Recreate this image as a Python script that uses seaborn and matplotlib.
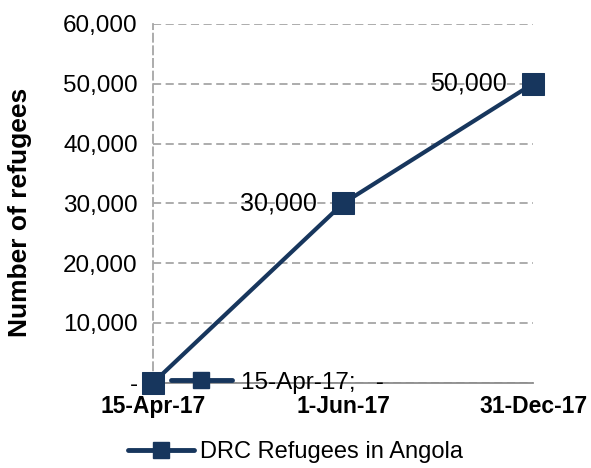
import pandas as pd
import matplotlib.pyplot as plt
from matplotlib.lines import Line2D
import seaborn as sns

dates = ['15-Apr-17', '1-Jun-17', '31-Dec-17']
refugees = [0, 30000, 50000]
point_labels = ['-', '30,000', '50,000']
y_ticks = [0, 10000, 20000, 30000, 40000, 50000, 60000]
y_tick_labels = ['-', '10,000', '20,000', '30,000', '40,000', '50,000', '60,000']
series_name = 'DRC Refugees in Angola'

navy = '#17365D'

sns.set_theme(style='white')
plt.rcParams['font.family'] = ['Liberation Sans', 'DejaVu Sans']
plt.rcParams['text.color'] = 'black'
plt.rcParams['xtick.color'] = 'black'
plt.rcParams['ytick.color'] = 'black'
plt.rcParams['axes.labelcolor'] = 'black'

df = pd.DataFrame({'date': dates, 'refugees': refugees})

fig = plt.figure(figsize=(5.91, 4.68), dpi=100)
ax = fig.add_axes([0.259, 0.182, 0.643, 0.767])

sns.lineplot(data=df, x='date', y='refugees', sort=False, color=navy,
             linewidth=3, marker='s', markersize=15.5, markeredgecolor=navy,
             clip_on=False, zorder=5, ax=ax, legend=False)

ax.set_xlim(0, len(dates) - 1)
ax.set_ylim(0, 60000)
ax.set_yticks(y_ticks)
ax.set_yticklabels(y_tick_labels, fontsize=17.5)
ax.set_xticks(range(len(dates)))
ax.set_xticklabels(dates, fontsize=16.5, fontweight='bold')
ax.tick_params(axis='both', length=0)
ax.tick_params(axis='y', pad=11)
ax.tick_params(axis='x', pad=9)

dash = (0, (4.5, 2.5))
ax.yaxis.grid(True, color='#A6A6A6', linestyle=dash, linewidth=1.3)
ax.xaxis.grid(False)
for side in ['top', 'right']:
    ax.spines[side].set_visible(False)
ax.spines['left'].set_color('#A6A6A6')
ax.spines['left'].set_linestyle(dash)
ax.spines['left'].set_linewidth(1.3)
ax.spines['bottom'].set_color('#8C8C8C')
ax.spines['bottom'].set_linewidth(1.3)

ax.set_xlabel('')
ax.set_ylabel('Number of refugees', fontsize=19, fontweight='bold')
ax.yaxis.set_label_coords(-0.318, 0.474)

# data labels left of the points (the zero label sits under the "-" tick label)
for i, (v, lab) in enumerate(zip(refugees, point_labels)):
    if v == 0:
        continue
    ax.annotate(lab, (i, v), xytext=(-19, 0), textcoords='offset points',
                ha='right', va='center', fontsize=18, zorder=6)

# Excel-style label with a legend key next to the first point
key = Line2D([], [], color=navy, linewidth=3.5, marker='s', markersize=12)
odd = ax.legend([key], [f'{dates[0]};   -'], loc='center left',
                bbox_to_anchor=(0.047, 0.0), bbox_transform=ax.transAxes,
                frameon=False, fontsize=17.5, handlelength=2.5,
                handletextpad=0.4, borderaxespad=0, borderpad=0)
odd.set_zorder(7)
ax.add_artist(odd)
ax.legend_ = None

handle = Line2D([], [], color=navy, linewidth=3.5, marker='s', markersize=12)
fig.legend([handle], [series_name], loc='center',
           bbox_to_anchor=(0.5, 16 / 468), frameon=False, fontsize=17,
           handlelength=2.8, handletextpad=0.25, borderpad=0)

plt.savefig('out.png', dpi=100)
